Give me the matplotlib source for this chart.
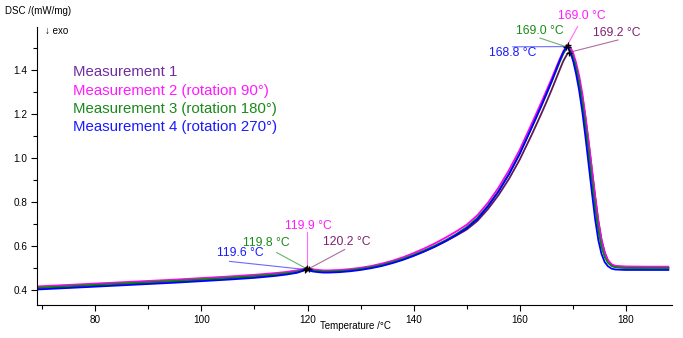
import matplotlib as mpl
mpl.use('Agg')
import matplotlib.pyplot as plt
from matplotlib.ticker import MultipleLocator, FormatStrFormatter

plt.rcParams['font.family'] = ['Liberation Sans', 'DejaVu Sans']

# Temperature grid /°C, shared by all four runs
temps = [69, 75, 80, 85, 90, 95, 100, 105,
         110, 114, 116, 118, 119,
         119.6, 119.8, 119.9, 120.2,
         121, 122, 123, 124,
         126, 128, 130, 132, 134, 136, 138, 140,
         142, 144, 146, 148, 150, 152, 154, 156, 158, 160,
         162, 163, 164, 165, 166, 167,
         167.6, 168.2, 168.8, 169.0, 169.2, 169.6,
         170.1, 170.6, 171.2, 171.8, 172.4, 173, 173.6, 174.2, 174.8, 175.4, 176, 176.6, 177.3, 178,
         180, 184, 188]

# DSC signal /(mW/mg)
dsc_1 = [.406, .413, .419, .425, .431, .437, .444, .451,
         .459, .467, .472, .479, .485,
         .490, .492, .493, .494,
         .490, .486, .484, .483,
         .485, .489, .495, .502, .512, .524, .538, .555,
         .574, .595, .619, .645, .673, .712, .766, .830, .905, .992,
         1.092, 1.144, 1.197, 1.252, 1.309, 1.369,
         1.405, 1.440, 1.466, 1.474, 1.479, 1.471,
         1.450, 1.414, 1.355, 1.277, 1.177, 1.065, .945, .826, .715, .628, .570, .533, .512, .503,
         .499, .498, .498]
dsc_2 = [.414, .421, .427, .433, .439, .445, .452, .459,
         .467, .475, .480, .487, .492,
         .495, .497, .498, .496,
         .492, .489, .487, .487,
         .489, .493, .499, .507, .518, .531, .547, .566,
         .587, .610, .636, .664, .695, .738, .795, .864, .945, 1.037,
         1.142, 1.195, 1.249, 1.304, 1.360, 1.419,
         1.453, 1.484, 1.508, 1.514, 1.512, 1.500,
         1.474, 1.434, 1.372, 1.290, 1.185, 1.070, .945, .822, .710, .625, .567, .534, .515, .508,
         .505, .504, .504]
dsc_3 = [.408, .415, .421, .427, .433, .439, .446, .453,
         .461, .469, .474, .481, .487,
         .492, .495, .494, .491,
         .487, .484, .482, .482,
         .484, .488, .494, .502, .512, .525, .540, .558,
         .578, .600, .624, .652, .684, .726, .782, .849, .928, 1.020,
         1.125, 1.178, 1.232, 1.288, 1.345, 1.405,
         1.440, 1.473, 1.497, 1.503, 1.500, 1.485,
         1.455, 1.410, 1.340, 1.250, 1.140, 1.020, .895, .775, .670, .595, .548, .522, .507, .501,
         .498, .497, .497]
dsc_4 = [.400, .407, .413, .419, .425, .431, .438, .445,
         .453, .462, .468, .476, .484,
         .491, .490, .489, .487,
         .482, .479, .477, .477,
         .479, .483, .489, .497, .507, .520, .535, .553,
         .573, .595, .620, .648, .679, .720, .778, .846, .926, 1.018,
         1.124, 1.178, 1.233, 1.290, 1.348, 1.410,
         1.447, 1.480, 1.506, 1.504, 1.497, 1.476,
         1.436, 1.383, 1.305, 1.207, 1.090, .965, .840, .720, .625, .562, .525, .506, .495, .491,
         .489, .489, .489]

labels = ['Measurement 1', 'Measurement 2 (rotation 90°)',
          'Measurement 3 (rotation 180°)', 'Measurement 4 (rotation 270°)']
series = [dsc_1, dsc_2, dsc_3, dsc_4]
line_colors = ['#5e1a58', '#ff00ff', '#008a00', '#0000ff']
text_colors = ['#6f2da0', '#ff1aff', '#1a8a1a', '#1a1aff']
note_colors = ['#80206f', '#ff1aff', '#1a8a1a', '#1a1aff']

# peak temperatures (small transition, main melting peak)
small_peaks = [120.2, 119.9, 119.8, 119.6]
main_peaks = [169.2, 169.0, 169.0, 168.8]
# label centre and leader start (T, signal) for each peak annotation
small_text = [(127.4, 0.618), (120.2, 0.691), (112.3, 0.614), (107.4, 0.564)]
small_lead = [(127.0, 0.582), (119.9, 0.660), (114.2, 0.568), (105.3, 0.528)]
main_text = [(178.3, 1.568), (171.7, 1.645), (163.8, 1.577), (158.7, 1.477)]
main_lead = [(178.5, 1.536), (170.9, 1.597), (163.8, 1.545), (158.7, 1.505)]

fig = plt.figure(figsize=(6.83, 3.38), dpi=100)
ax = fig.add_axes([0.054, 0.098, 0.930, 0.822])

# draw order: blue at the bottom, magenta on top
for i in [3, 0, 2, 1]:
    ax.plot(temps, series[i], color=line_colors[i], lw=1.3, zorder=2 + i * 0.1)

for i in range(4):
    for peaks, txt, lead in [(small_peaks, small_text, small_lead),
                             (main_peaks, main_text, main_lead)]:
        t = peaks[i]
        v = series[i][temps.index(t)]
        ax.plot([lead[i][0], t], [lead[i][1], v], color=note_colors[i], lw=0.8,
                alpha=0.65, zorder=4, clip_on=False)
        ax.plot(t, v, marker='+', color='black', ms=4, mew=0.9, zorder=5)
        ax.text(txt[i][0], txt[i][1], '%.1f °C' % t, color=note_colors[i], fontsize=8.7,
                ha='center', va='center', zorder=6, clip_on=False)

for i, lab in enumerate(labels):
    ax.text(0.057, 0.837 - i * 0.066, lab, transform=ax.transAxes, color=text_colors[i],
            fontsize=10.8, ha='left', va='center')

ax.set_xlim(69, 188.7)
ax.set_ylim(0.33, 1.595)
ax.spines['top'].set_visible(False)
ax.spines['right'].set_visible(False)
ax.xaxis.set_major_locator(MultipleLocator(20))
ax.xaxis.set_minor_locator(MultipleLocator(10))
ax.yaxis.set_major_locator(MultipleLocator(0.2))
ax.yaxis.set_minor_locator(MultipleLocator(0.1))
ax.yaxis.set_major_formatter(FormatStrFormatter('%.1f'))
ax.tick_params(which='major', direction='out', length=4, width=0.8, labelsize=7.2, pad=3)
ax.tick_params(which='minor', direction='out', length=3, width=0.8)

fig.text(5 / 683, 1 - 11 / 338, 'DSC /(mW/mg)', fontsize=7, ha='left', va='center')
ax.text(0.012, 0.985, '↓ exo', transform=ax.transAxes, fontsize=7, ha='left', va='center')
fig.text(355 / 683, 1 - 326 / 338, 'Temperature /°C', fontsize=7, ha='center', va='center')

fig.savefig('out.png', dpi=100)
